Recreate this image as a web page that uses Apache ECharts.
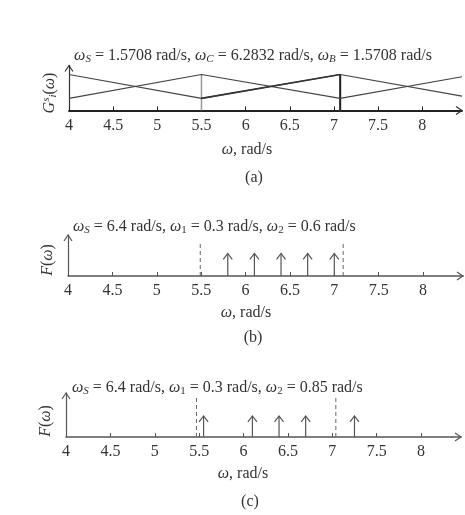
<!DOCTYPE html>
<html>
<head>
<meta charset="utf-8">
<script src="https://cdn.jsdelivr.net/npm/echarts@6/dist/echarts.min.js"></script>
<style>
html, body { margin: 0; padding: 0; background: #fff; }
#chart { width: 465px; height: 515px; }
</style>
</head>
<body>
<div id="chart"></div>
<script>
// 横轴刻度
const xTicks = [4, 4.5, 5, 5.5, 6, 6.5, 7, 7.5, 8];
const xMin = 4;
const xMax = 8.45;

// (a) 隶属函数
const knotsA = [4, 5.5, 7.0708, 8.45];
const fallA = [0.8, 0.27, 0.8, 0.32];
const riseA = [0.27, 0.8, 0.27, 0.75];
const boldKnots = [5.5, 7.0708];
const boldVals = [0.27, 0.8];
const edgesA = [5.5, 7.0708];
const edgeHA = [0.8, 0.8];

// (b) 谱线
const pulsesB = [5.8, 6.1, 6.4, 6.7, 7.0];
const pulseHB = 0.55;
const dashB = [5.49, 7.1];
const dashHB = 0.8;

// (c) 谱线
const pulsesC = [5.55, 6.1, 6.4, 6.7, 7.25];
const pulseHC = 0.48;
const dashC = [5.47, 7.04];
const dashHC = 0.95;

const SERIF = 'Liberation Serif';
const TXT = '#333';
const FS = 16;

const chart = echarts.init(document.getElementById('chart'));

const zip = (xs, ys) => xs.map((x, i) => [x, ys[i]]);

const xAxisOf = (gi, color, width) => ({
    gridIndex: gi,
    type: 'value',
    min: xMin,
    max: xMax,
    interval: 0.5,
    axisLine: { onZero: false, lineStyle: { color: color, width: width } },
    axisTick: { inside: true, length: 4, customValues: xTicks, lineStyle: { color: color, width: 1 } },
    axisLabel: { margin: 7, color: TXT, fontFamily: SERIF, fontSize: FS, customValues: xTicks },
    splitLine: { show: false },
});

const yAxisOf = (gi, color, width) => ({
    gridIndex: gi,
    type: 'value',
    min: 0,
    max: 1,
    axisLine: { show: true, onZero: false, lineStyle: { color: color, width: width } },
    axisTick: { show: false },
    axisLabel: { show: false },
    splitLine: { show: false },
});

// 坐标轴箭头
const axisArrows = (gi, color) => ({
    type: 'custom',
    xAxisIndex: gi,
    yAxisIndex: gi,
    data: [[xMin, 0]],
    silent: true,
    renderItem: (params, api) => {
        const px = api.coord([xMax, 0]);
        const py = api.coord([xMin, 1]);
        const st = { stroke: color, fill: 'none', lineWidth: 1.2 };
        return {
            type: 'group',
            children: [
                { type: 'polyline', shape: { points: [[px[0] - 6, px[1] - 4], [px[0], px[1]], [px[0] - 6, px[1] + 4]] }, style: st },
                { type: 'polyline', shape: { points: [[py[0] - 4, py[1] + 6], [py[0], py[1]], [py[0] + 4, py[1] + 6]] }, style: st },
            ],
        };
    },
});

// 竖线（实线/虚线/带箭头）
const stems = (gi, xs, h, opt) => ({
    type: 'custom',
    xAxisIndex: gi,
    yAxisIndex: gi,
    data: xs.map((x, i) => [x, Array.isArray(h) ? h[i] : h]),
    silent: true,
    renderItem: (params, api) => {
        const p0 = api.coord([api.value(0), 0]);
        const p1 = api.coord([api.value(0), api.value(1)]);
        const st = { stroke: opt.color, fill: 'none', lineWidth: opt.width, lineDash: opt.dash || null };
        const children = [{ type: 'line', shape: { x1: p0[0], y1: p0[1], x2: p1[0], y2: p1[1] }, style: st }];
        if (opt.head) {
            children.push({
                type: 'polyline',
                shape: { points: [[p1[0] - 4.5, p1[1] + 6], [p1[0], p1[1]], [p1[0] + 4.5, p1[1] + 6]] },
                style: { stroke: opt.color, fill: 'none', lineWidth: opt.width },
            });
        }
        return { type: 'group', children: children };
    },
});

const lineSeries = (data, color, width) => ({
    type: 'line',
    xAxisIndex: 0,
    yAxisIndex: 0,
    data: data,
    showSymbol: false,
    silent: true,
    lineStyle: { color: color, width: width },
});

const rich = {
    i: { fontStyle: 'italic', fontFamily: SERIF, fontSize: FS, fill: TXT },
    s: { fontStyle: 'italic', fontFamily: SERIF, fontSize: 11, padding: [7, 0, 0, 0], fill: TXT },
    n: { fontFamily: SERIF, fontSize: 11, padding: [7, 0, 0, 0], fill: TXT },
    sup: { fontStyle: 'italic', fontFamily: SERIF, fontSize: 11, padding: [0, 0, 7, 0], fill: TXT },
};

const label = (text, x, y, align, rot) => ({
    type: 'text',
    x: x,
    y: y,
    rotation: rot || 0,
    silent: true,
    style: {
        text: text,
        fontFamily: SERIF,
        fontSize: FS,
        fill: TXT,
        align: align || 'center',
        verticalAlign: 'middle',
        rich: rich,
    },
});

const wname = '{i|ω}, rad/s';
const Fname = '{i|F}({i|ω})';

chart.setOption({
    animation: false,
    grid: [
        { left: 69, top: 65.5, width: 393, height: 45 },
        { left: 68, top: 235, width: 395, height: 41 },
        { left: 66, top: 393, width: 395, height: 44 },
    ],
    xAxis: [xAxisOf(0, '#222', 1.8), xAxisOf(1, '#555', 1.5), xAxisOf(2, '#555', 1.5)],
    yAxis: [yAxisOf(0, '#333', 1.2), yAxisOf(1, '#555', 1.2), yAxisOf(2, '#555', 1.2)],
    graphic: [
        label('{i|ω}{s|S} = 1.5708 rad/s, {i|ω}{s|C} = 6.2832 rad/s, {i|ω}{s|B} = 1.5708 rad/s', 253, 56),
        label(wname, 247, 150),
        label('(a)', 254, 178),
        label('{i|G}{sup|s}{s|i}({i|ω})', 50, 93, 'center', Math.PI / 2),
        label('{i|ω}{s|S} = 6.4 rad/s, {i|ω}{n|1} = 0.3 rad/s, {i|ω}{n|2} = 0.6 rad/s', 73, 227, 'left'),
        label(wname, 246, 313),
        label('(b)', 253, 338),
        label(Fname, 48, 260, 'center', Math.PI / 2),
        label('{i|ω}{s|S} = 6.4 rad/s, {i|ω}{n|1} = 0.3 rad/s, {i|ω}{n|2} = 0.85 rad/s', 72, 388, 'left'),
        label(wname, 243, 474),
        label('(c)', 250, 502),
        label(Fname, 46, 421, 'center', Math.PI / 2),
    ],
    series: [
        lineSeries(zip(knotsA, fallA), '#444', 1.2),
        lineSeries(zip(knotsA, riseA), '#444', 1.2),
        lineSeries(zip(boldKnots, boldVals), '#333', 1.6),
        stems(0, edgesA, edgeHA, { color: '#999', width: 1.5 }),
        stems(0, [edgesA[1]], edgeHA[1], { color: '#222', width: 2 }),
        axisArrows(0, '#333'),
        stems(1, dashB, dashHB, { color: '#666', width: 1, dash: [4, 3] }),
        stems(1, pulsesB, pulseHB, { color: '#555', width: 1.2, head: true }),
        axisArrows(1, '#555'),
        stems(2, dashC, dashHC, { color: '#666', width: 1, dash: [4, 3] }),
        stems(2, pulsesC, pulseHC, { color: '#555', width: 1.2, head: true }),
        axisArrows(2, '#555'),
    ],
});
</script>
</body>
</html>
